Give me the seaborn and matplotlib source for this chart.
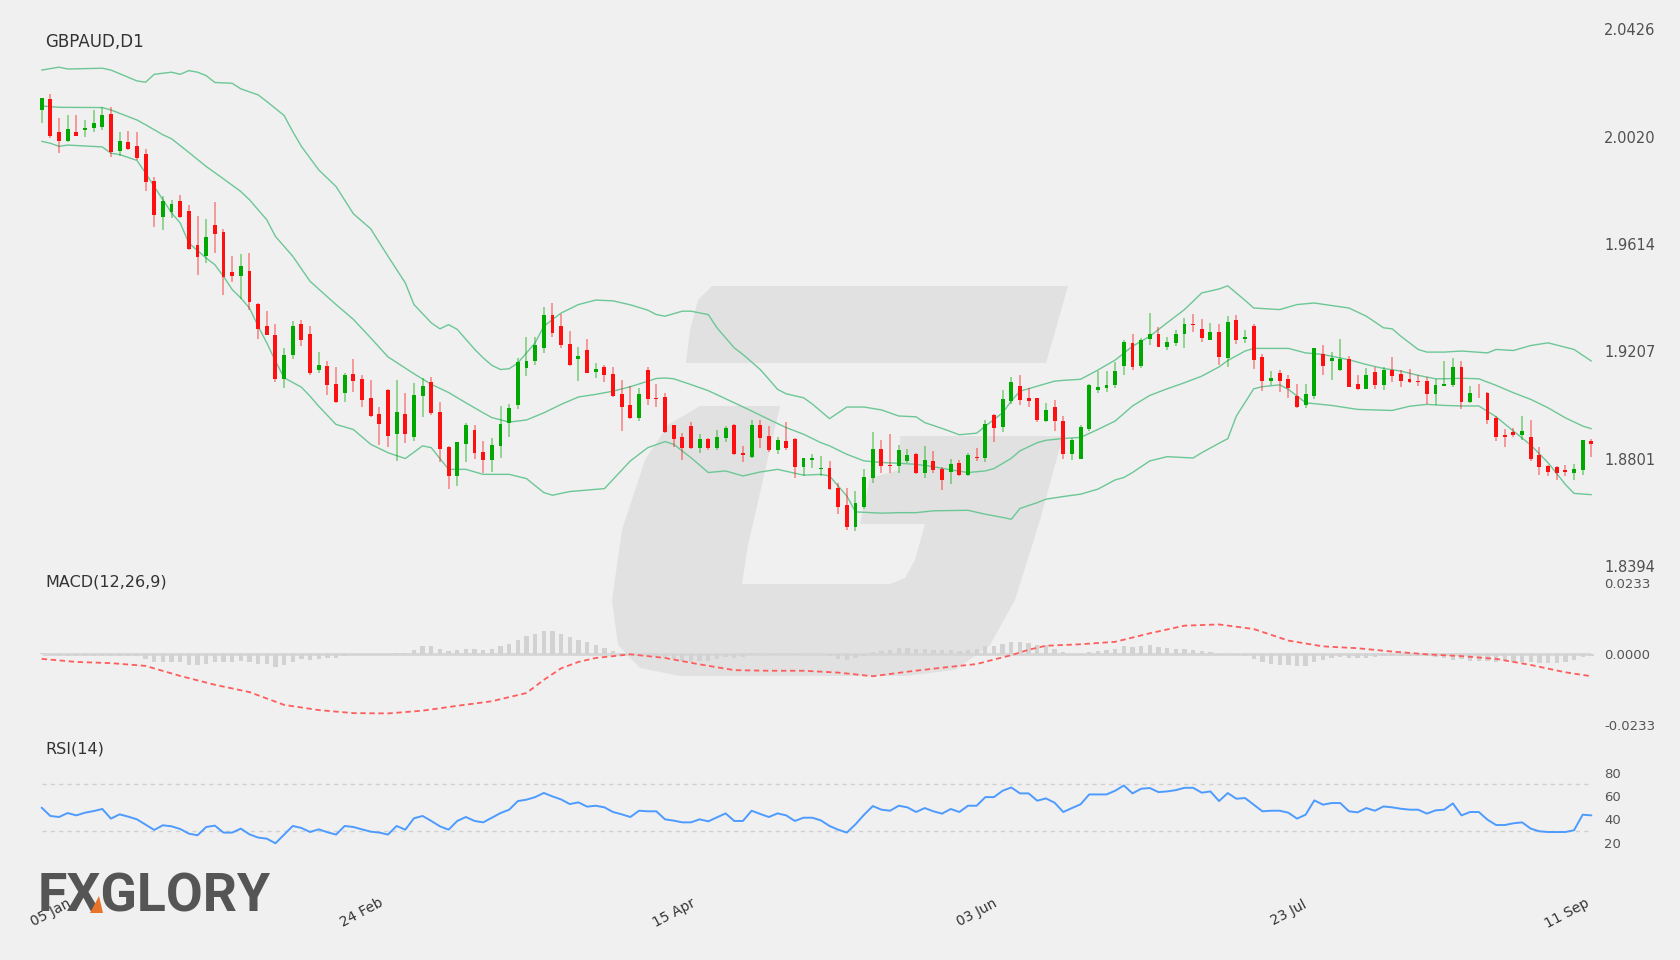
import numpy as np
import pandas as pd
import matplotlib
matplotlib.use("Agg")
import matplotlib.pyplot as plt
import matplotlib.transforms as mtransforms
from matplotlib.patches import Polygon
import seaborn as sns

# --- data (GBPAUD daily, 180 candles) ---
opens = [2.0121, 2.0162, 2.0037, 2.0005, 2.0037, 2.0046, 2.0051, 2.0055, 2.0105, 1.9964,
         1.9999, 1.9986, 1.9956, 1.9853, 1.9716, 1.9733, 1.9777, 1.9738, 1.9608, 1.9567,
         1.9684, 1.9658, 1.9509, 1.9492, 1.9513, 1.9388, 1.9301, 1.9269, 1.9102, 1.9193,
         1.9312, 1.9271, 1.9135, 1.9151, 1.9082, 1.9049, 1.9122, 1.9103, 1.9030, 1.8969,
         1.9061, 1.8893, 1.8969, 1.8884, 1.9038, 1.9092, 1.8978, 1.8846, 1.8735, 1.8857,
         1.8910, 1.8825, 1.8796, 1.8849, 1.8934, 1.9005, 1.9143, 1.9169, 1.9218, 1.9343,
         1.9303, 1.9233, 1.9177, 1.9213, 1.9130, 1.9146, 1.9122, 1.9046, 1.9005, 1.8953,
         1.9135, 1.9031, 1.9035, 1.8927, 1.8883, 1.8923, 1.8840, 1.8876, 1.8840, 1.8880,
         1.8929, 1.8822, 1.8808, 1.8928, 1.8886, 1.8835, 1.8867, 1.8876, 1.8769, 1.8794,
         1.8762, 1.8765, 1.8690, 1.8624, 1.8540, 1.8618, 1.8726, 1.8837, 1.8777, 1.8773,
         1.8792, 1.8818, 1.8745, 1.8792, 1.8763, 1.8750, 1.8784, 1.8739, 1.8807, 1.8804,
         1.8967, 1.8920, 1.9017, 1.9077, 1.9029, 1.9029, 1.8943, 1.8995, 1.8943, 1.8817,
         1.8801, 1.8912, 1.9060, 1.9067, 1.9078, 1.9151, 1.9240, 1.9151, 1.9252, 1.9274,
         1.9223, 1.9238, 1.9271, 1.9311, 1.9291, 1.9249, 1.9281, 1.9181, 1.9327, 1.9253,
         1.9303, 1.9185, 1.9095, 1.9124, 1.9103, 1.9036, 1.9002, 1.9037, 1.9198, 1.9169,
         1.9135, 1.9176, 1.9085, 1.9065, 1.9128, 1.9079, 1.9137, 1.9122, 1.9101, 1.9095,
         1.9095, 1.9044, 1.9075, 1.9080, 1.9146, 1.9015, 1.9051, 1.9051, 1.8953, 1.8891,
         1.8900, 1.8889, 1.8882, 1.8813, 1.8774, 1.8770, 1.8756, 1.8748, 1.8758, 1.8867]
closes = [2.0165, 2.0024, 2.0005, 2.0047, 2.0024, 2.0053, 2.0071, 2.0102, 1.9960, 2.0004,
          1.9973, 1.9940, 1.9848, 1.9722, 1.9775, 1.9766, 1.9716, 1.9595, 1.9564, 1.9641,
          1.9653, 1.9489, 1.9491, 1.9530, 1.9393, 1.9292, 1.9268, 1.9104, 1.9194, 1.9301,
          1.9249, 1.9123, 1.9157, 1.9079, 1.9014, 1.9116, 1.9095, 1.9024, 1.8962, 1.8933,
          1.8888, 1.8978, 1.8894, 1.9043, 1.9075, 1.8972, 1.8836, 1.8735, 1.8865, 1.8929,
          1.8823, 1.8796, 1.8852, 1.8930, 1.8991, 1.9165, 1.9171, 1.9230, 1.9343, 1.9277,
          1.9229, 1.9154, 1.9191, 1.9126, 1.9141, 1.9117, 1.9038, 1.8996, 1.8956, 1.9046,
          1.9025, 1.9025, 1.8901, 1.8874, 1.8842, 1.8840, 1.8876, 1.8840, 1.8883, 1.8917,
          1.8817, 1.8813, 1.8927, 1.8878, 1.8832, 1.8870, 1.8840, 1.8769, 1.8802, 1.8802,
          1.8765, 1.8685, 1.8618, 1.8540, 1.8632, 1.8731, 1.8837, 1.8773, 1.8773, 1.8835,
          1.8813, 1.8745, 1.8794, 1.8757, 1.8720, 1.8779, 1.8739, 1.8813, 1.8802, 1.8930,
          1.8917, 1.9025, 1.9092, 1.9021, 1.9019, 1.8946, 1.8986, 1.8942, 1.8820, 1.8870,
          1.8919, 1.9079, 1.9070, 1.9079, 1.9131, 1.9244, 1.9148, 1.9248, 1.9274, 1.9223,
          1.9244, 1.9274, 1.9309, 1.9306, 1.9259, 1.9282, 1.9185, 1.9319, 1.9249, 1.9261,
          1.9174, 1.9094, 1.9107, 1.9095, 1.9069, 1.8995, 1.9046, 1.9218, 1.9150, 1.9182,
          1.9179, 1.9073, 1.9063, 1.9119, 1.9078, 1.9135, 1.9113, 1.9095, 1.9090, 1.9090,
          1.9046, 1.9078, 1.9085, 1.9148, 1.9015, 1.9051, 1.9048, 1.8947, 1.8882, 1.8882,
          1.8890, 1.8904, 1.8798, 1.8769, 1.8750, 1.8745, 1.8749, 1.8762, 1.8870, 1.8857]
highs = [2.0165, 2.0182, 2.0090, 2.0102, 2.0102, 2.0083, 2.0121, 2.0134, 2.0131, 2.0036,
         2.0042, 2.0037, 1.9973, 1.9867, 1.9794, 1.9781, 1.9800, 1.9761, 1.9718, 1.9709,
         1.9771, 1.9670, 1.9569, 1.9576, 1.9579, 1.9390, 1.9358, 1.9312, 1.9218, 1.9320,
         1.9327, 1.9301, 1.9206, 1.9170, 1.9146, 1.9126, 1.9176, 1.9118, 1.9097, 1.8996,
         1.9065, 1.9098, 1.9049, 1.9088, 1.9107, 1.9111, 1.9016, 1.8849, 1.8865, 1.8934,
         1.8928, 1.8867, 1.8879, 1.9000, 1.9006, 1.9183, 1.9262, 1.9262, 1.9373, 1.9390,
         1.9348, 1.9285, 1.9224, 1.9252, 1.9164, 1.9157, 1.9148, 1.9098, 1.9074, 1.9067,
         1.9148, 1.9082, 1.9050, 1.8929, 1.8898, 1.8941, 1.8895, 1.8880, 1.8908, 1.8924,
         1.8933, 1.8847, 1.8946, 1.8946, 1.8924, 1.8883, 1.8941, 1.8879, 1.8802, 1.8817,
         1.8811, 1.8792, 1.8707, 1.8689, 1.8677, 1.8763, 1.8900, 1.8871, 1.8893, 1.8852,
         1.8836, 1.8823, 1.8850, 1.8828, 1.8770, 1.8798, 1.8794, 1.8823, 1.8840, 1.8947,
         1.8971, 1.9062, 1.9109, 1.9116, 1.9067, 1.9031, 1.9010, 1.9022, 1.8962, 1.8880,
         1.8928, 1.9084, 1.9131, 1.9131, 1.9165, 1.9248, 1.9271, 1.9257, 1.9353, 1.9300,
         1.9262, 1.9287, 1.9334, 1.9350, 1.9331, 1.9315, 1.9309, 1.9342, 1.9346, 1.9288,
         1.9311, 1.9195, 1.9132, 1.9137, 1.9116, 1.9085, 1.9082, 1.9218, 1.9232, 1.9204,
         1.9252, 1.9191, 1.9118, 1.9142, 1.9147, 1.9146, 1.9186, 1.9135, 1.9141, 1.9118,
         1.9111, 1.9103, 1.9171, 1.9182, 1.9169, 1.9077, 1.9084, 1.9054, 1.8963, 1.8913,
         1.8918, 1.8962, 1.8947, 1.8843, 1.8777, 1.8774, 1.8775, 1.8780, 1.8870, 1.8874]
lows = [2.0073, 2.0014, 1.9957, 1.9998, 2.0024, 2.0018, 2.0039, 2.0046, 1.9942, 1.9947,
        1.9970, 1.9932, 1.9813, 1.9676, 1.9668, 1.9712, 1.9712, 1.9592, 1.9497, 1.9542,
        1.9579, 1.9419, 1.9470, 1.9406, 1.9365, 1.9252, 1.9267, 1.9092, 1.9068, 1.9177,
        1.9227, 1.9118, 1.9123, 1.9041, 1.9012, 1.9016, 1.9053, 1.8996, 1.8958, 1.8851,
        1.8845, 1.8792, 1.8860, 1.8867, 1.8959, 1.8964, 1.8788, 1.8685, 1.8697, 1.8788,
        1.8798, 1.8745, 1.8750, 1.8804, 1.8884, 1.8987, 1.9113, 1.9154, 1.9199, 1.9262,
        1.9218, 1.9151, 1.9094, 1.9123, 1.9107, 1.9092, 1.9035, 1.8905, 1.8949, 1.8943,
        1.9004, 1.8996, 1.8899, 1.8846, 1.8796, 1.8836, 1.8823, 1.8833, 1.8833, 1.8864,
        1.8815, 1.8786, 1.8802, 1.8842, 1.8827, 1.8820, 1.8832, 1.8726, 1.8735, 1.8764,
        1.8735, 1.8682, 1.8590, 1.8531, 1.8527, 1.8609, 1.8709, 1.8745, 1.8745, 1.8748,
        1.8783, 1.8741, 1.8729, 1.8745, 1.8682, 1.8706, 1.8733, 1.8733, 1.8792, 1.8788,
        1.8865, 1.8901, 1.9009, 1.9004, 1.8996, 1.8941, 1.8941, 1.8905, 1.8801, 1.8796,
        1.8798, 1.8904, 1.9048, 1.9053, 1.9069, 1.9119, 1.9136, 1.9145, 1.9229, 1.9223,
        1.9211, 1.9227, 1.9218, 1.9281, 1.9243, 1.9249, 1.9157, 1.9147, 1.9234, 1.9238,
        1.9141, 1.9056, 1.9078, 1.9053, 1.9031, 1.8992, 1.8991, 1.9025, 1.9117, 1.9098,
        1.9132, 1.9070, 1.9060, 1.9063, 1.9063, 1.9061, 1.9090, 1.9072, 1.9088, 1.9075,
        1.9006, 1.9002, 1.9075, 1.9070, 1.8990, 1.9012, 1.9031, 1.8932, 1.8867, 1.8845,
        1.8882, 1.8870, 1.8790, 1.8738, 1.8735, 1.8720, 1.8733, 1.8720, 1.8739, 1.8808]

# Bollinger band vertices: candle index and value for each line
upper_idx = [0, 2, 3, 7, 8, 11, 12, 13, 15, 16, 17, 18, 19, 20, 22, 23, 25, 26, 28, 29,
             30, 32, 34, 36, 38, 40, 42, 43, 45, 46, 47, 48, 50, 51, 52, 53, 54, 55, 57, 58,
             60, 62, 64, 66, 68, 70, 71, 72, 74, 75, 77, 78, 80, 81, 83, 84, 85, 86, 88, 89,
             91, 93, 95, 97, 99, 101, 102, 104, 106, 108, 109, 111, 112, 113, 115, 117, 118, 120, 122, 124,
             126, 128, 130, 132, 134, 136, 137, 139, 140, 143, 145, 147, 148, 151, 153, 155, 156, 157, 159, 160,
             162, 164, 167, 168, 170, 172, 174, 177, 179]
upper_vals = [2.0272, 2.0283, 2.0276, 2.0279, 2.0272, 2.0231, 2.0226, 2.0256, 2.0264, 2.0256,
              2.0270, 2.0264, 2.0251, 2.0225, 2.0222, 2.0201, 2.0178, 2.0153, 2.0100, 2.0039,
              1.9983, 1.9894, 1.9831, 1.9728, 1.9671, 1.9567, 1.9466, 1.9384, 1.9315, 1.9292,
              1.9308, 1.9290, 1.9215, 1.9182, 1.9154, 1.9138, 1.9141, 1.9163, 1.9239, 1.9302,
              1.9352, 1.9384, 1.9401, 1.9398, 1.9383, 1.9363, 1.9346, 1.9340, 1.9359, 1.9359,
              1.9346, 1.9296, 1.9220, 1.9195, 1.9138, 1.9101, 1.9063, 1.9046, 1.9031, 1.9008,
              1.8952, 1.8996, 1.8996, 1.8985, 1.8962, 1.8959, 1.8937, 1.8915, 1.8891, 1.8897,
              1.8924, 1.8974, 1.9019, 1.9056, 1.9075, 1.9094, 1.9097, 1.9101, 1.9136, 1.9174,
              1.9226, 1.9264, 1.9315, 1.9365, 1.9428, 1.9443, 1.9455, 1.9400, 1.9371, 1.9365,
              1.9384, 1.9390, 1.9385, 1.9371, 1.9340, 1.9296, 1.9292, 1.9264, 1.9214, 1.9204,
              1.9204, 1.9208, 1.9201, 1.9214, 1.9210, 1.9229, 1.9239, 1.9214, 1.9170]
mid_idx = [0, 2, 7, 8, 11, 12, 14, 15, 17, 19, 21, 23, 24, 26, 27, 29, 31, 34, 36, 38,
           40, 43, 45, 47, 49, 51, 52, 54, 56, 58, 60, 62, 64, 66, 68, 71, 72, 73, 75, 77,
           80, 82, 84, 86, 88, 90, 91, 93, 95, 97, 99, 101, 103, 105, 107, 109, 110, 112, 113, 115,
           116, 118, 120, 122, 124, 126, 128, 130, 132, 134, 136, 137, 139, 140, 144, 146, 148, 151, 153, 155,
           157, 159, 161, 162, 164, 166, 168, 170, 172, 174, 176, 178, 179]
mid_vals = [2.0136, 2.0131, 2.0130, 2.0121, 2.0083, 2.0065, 2.0027, 2.0012, 1.9960, 1.9907,
            1.9860, 1.9812, 1.9781, 1.9705, 1.9642, 1.9567, 1.9472, 1.9384, 1.9328, 1.9258,
            1.9186, 1.9122, 1.9082, 1.9051, 1.9012, 1.8974, 1.8956, 1.8939, 1.8947, 1.8974,
            1.9006, 1.9034, 1.9044, 1.9056, 1.9073, 1.9104, 1.9106, 1.9103, 1.9081, 1.9058,
            1.9012, 1.8981, 1.8949, 1.8918, 1.8893, 1.8861, 1.8849, 1.8817, 1.8792, 1.8786,
            1.8783, 1.8779, 1.8770, 1.8758, 1.8748, 1.8754, 1.8763, 1.8802, 1.8830, 1.8861,
            1.8870, 1.8877, 1.8881, 1.8911, 1.8943, 1.9000, 1.9040, 1.9065, 1.9088, 1.9113,
            1.9148, 1.9172, 1.9208, 1.9218, 1.9218, 1.9201, 1.9195, 1.9175, 1.9157, 1.9142,
            1.9132, 1.9116, 1.9103, 1.9103, 1.9105, 1.9103, 1.9078, 1.9050, 1.9025, 1.8993,
            1.8955, 1.8924, 1.8914]
lower_idx = [0, 1, 2, 3, 7, 8, 9, 11, 12, 13, 14, 15, 16, 17, 19, 20, 21, 22, 23, 24,
             25, 26, 27, 28, 30, 31, 32, 34, 36, 38, 40, 42, 44, 45, 47, 49, 51, 54, 56, 58,
             59, 61, 65, 66, 68, 70, 72, 73, 75, 77, 79, 81, 83, 85, 88, 90, 91, 93, 94, 97,
             99, 101, 103, 107, 109, 111, 112, 113, 115, 116, 118, 120, 122, 124, 125, 126, 128, 130, 133, 134,
             136, 137, 138, 140, 141, 143, 144, 146, 149, 152, 156, 158, 160, 162, 164, 166, 168, 170, 172, 174,
             176, 177, 179]
lower_vals = [2.0002, 1.9995, 1.9983, 1.9988, 1.9981, 1.9957, 1.9952, 1.9930, 1.9882, 1.9831,
              1.9781, 1.9731, 1.9693, 1.9617, 1.9560, 1.9535, 1.9491, 1.9441, 1.9409, 1.9371,
              1.9302, 1.9239, 1.9170, 1.9107, 1.9071, 1.9037, 1.8999, 1.8930, 1.8911, 1.8855,
              1.8823, 1.8801, 1.8849, 1.8842, 1.8760, 1.8760, 1.8741, 1.8741, 1.8725, 1.8672,
              1.8662, 1.8676, 1.8687, 1.8722, 1.8792, 1.8842, 1.8865, 1.8855, 1.8804, 1.8748,
              1.8754, 1.8735, 1.8750, 1.8760, 1.8738, 1.8741, 1.8735, 1.8659, 1.8599, 1.8594,
              1.8596, 1.8596, 1.8603, 1.8605, 1.8590, 1.8578, 1.8571, 1.8612, 1.8634, 1.8647,
              1.8657, 1.8666, 1.8685, 1.8720, 1.8729, 1.8748, 1.8792, 1.8808, 1.8803, 1.8823,
              1.8859, 1.8876, 1.8962, 1.9065, 1.9073, 1.9080, 1.9063, 1.9012, 1.9002, 1.8987,
              1.8983, 1.8999, 1.9006, 1.9002, 1.9000, 1.9000, 1.8959, 1.8905, 1.8852, 1.8785,
              1.8703, 1.8669, 1.8664]

macd_hist = [0.0004, -0.0003, -0.0005, -0.0005, -0.0005, -0.0005, -0.0005, -0.0005, -0.0005, -0.0005,
             -0.0005, -0.0005, -0.0016, -0.0027, -0.0027, -0.0027, -0.0027, -0.0036, -0.0037, -0.0033,
             -0.0025, -0.0027, -0.0027, -0.0023, -0.0027, -0.0033, -0.0034, -0.0044, -0.0037, -0.0025,
             -0.0016, -0.0021, -0.0016, -0.0014, -0.0014, -0.0008, -0.0002, -0.0002, -0.0002, -0.0002,
             -0.0004, 0.0004, 0.0004, 0.0014, 0.0027, 0.0027, 0.0018, 0.0009, 0.0012, 0.0016,
             0.0016, 0.0014, 0.0016, 0.0025, 0.0032, 0.0047, 0.0058, 0.0067, 0.0074, 0.0074,
             0.0067, 0.0056, 0.0047, 0.0038, 0.0030, 0.0021, 0.0011, 0.0003, -0.0003, -0.0008,
             -0.0008, -0.0010, -0.0013, -0.0016, -0.0022, -0.0025, -0.0022, -0.0022, -0.0016, -0.0011,
             -0.0013, -0.0011, 0.0003, 0.0001, -0.0002, 0.0003, 0.0003, -0.0002, 0.0001, 0.0001,
             -0.0001, -0.0008, -0.0016, -0.0021, -0.0014, -0.0008, 0.0005, 0.0011, 0.0014, 0.0021,
             0.0021, 0.0018, 0.0018, 0.0014, 0.0013, 0.0013, 0.0010, 0.0012, 0.0016, 0.0025,
             0.0027, 0.0034, 0.0041, 0.0039, 0.0036, 0.0028, 0.0028, 0.0015, 0.0005, 0.0001,
             -0.0003, 0.0008, 0.0010, 0.0012, 0.0018, 0.0027, 0.0023, 0.0027, 0.0030, 0.0023,
             0.0020, 0.0018, 0.0016, 0.0014, 0.0009, 0.0008, -0.0003, -0.0001, -0.0003, -0.0008,
             -0.0016, -0.0027, -0.0032, -0.0035, -0.0036, -0.0038, -0.0038, -0.0026, -0.0021, -0.0013,
             -0.0011, -0.0012, -0.0013, -0.0013, -0.0011, -0.0008, -0.0005, -0.0008, -0.0008, -0.0005,
             -0.0008, -0.0010, -0.0013, -0.0019, -0.0016, -0.0022, -0.0022, -0.0022, -0.0026, -0.0024,
             -0.0025, -0.0027, -0.0027, -0.0030, -0.0030, -0.0030, -0.0025, -0.0021, -0.0010, -0.0005]

signal_idx = [0, 4, 8, 12, 16, 20, 24, 28, 32, 36, 40, 44, 48, 52, 56, 58, 60, 62, 64, 68,
              72, 76, 80, 84, 88, 92, 96, 100, 104, 108, 110, 112, 114, 116, 120, 124, 128, 132,
              136, 140, 144, 148, 152, 156, 160, 164, 168, 172, 176, 179]
signal_vals = [-0.0016, -0.0026, -0.0030, -0.0039, -0.0072, -0.0101, -0.0125, -0.0167, -0.0184,
               -0.0194, -0.0195, -0.0186, -0.0170, -0.0155, -0.0128, -0.0085, -0.0047, -0.0026,
               -0.0013, -0.0001, -0.0013, -0.0034, -0.0053, -0.0055, -0.0055, -0.0061, -0.0073,
               -0.0058, -0.0045, -0.0033, -0.0018, -0.0004, 0.0014, 0.0027, 0.0032, 0.0040,
               0.0068, 0.0093, 0.0097, 0.0082, 0.0044, 0.0025, 0.0019, 0.0008, -0.0001, -0.0007,
               -0.0016, -0.0036, -0.0060, -0.0073]

rsi = [50.0, 42.9, 42.0, 45.4, 43.4, 45.7, 47.1, 48.9, 40.6, 44.3,
       42.3, 40.0, 35.4, 30.9, 34.9, 34.0, 31.7, 27.7, 26.3, 33.4,
       34.6, 28.6, 28.6, 32.0, 27.1, 24.3, 23.4, 19.4, 26.9, 34.3,
       32.6, 29.1, 31.4, 28.9, 26.9, 34.3, 33.4, 31.4, 29.4, 28.6,
       26.9, 34.3, 31.1, 40.9, 42.9, 38.6, 34.0, 31.1, 38.6, 42.0,
       38.6, 37.4, 41.4, 45.4, 48.3, 55.7, 56.9, 59.1, 62.7, 59.7,
       57.1, 53.1, 54.6, 50.9, 51.7, 50.3, 46.3, 44.3, 42.0, 47.4,
       46.9, 46.9, 40.0, 38.9, 37.4, 37.4, 40.0, 38.3, 41.7, 45.1,
       38.6, 38.6, 47.4, 44.6, 42.0, 45.1, 43.4, 38.6, 41.4, 41.4,
       39.1, 34.3, 31.1, 28.6, 35.7, 44.0, 51.4, 48.3, 47.4, 51.7,
       50.3, 46.3, 49.7, 46.9, 44.9, 48.9, 46.3, 51.7, 51.7, 59.1,
       59.1, 64.6, 67.4, 62.3, 62.3, 56.0, 58.0, 54.3, 46.3, 49.7,
       52.9, 61.4, 61.4, 61.4, 64.6, 69.1, 62.3, 66.3, 66.9, 63.4,
       64.0, 65.1, 67.1, 67.1, 62.9, 64.0, 55.7, 62.6, 57.7, 58.3,
       52.6, 46.9, 47.4, 47.4, 45.7, 40.6, 44.0, 56.3, 52.6, 54.0,
       54.0, 46.9, 46.0, 49.7, 47.4, 51.1, 50.3, 49.1, 48.3, 48.3,
       44.9, 47.7, 48.3, 53.7, 43.4, 46.3, 46.3, 39.7, 35.1, 35.1,
       36.6, 37.4, 32.0, 29.7, 29.1, 29.1, 29.1, 30.6, 44.0, 43.4]

price_ticks = [1.8394, 1.8801, 1.9207, 1.9614, 2.0020, 2.0426]
macd_ticks = [-0.0233, 0.0, 0.0233]
rsi_ticks = [20, 40, 60, 80]
rsi_levels = [30, 70]
date_idx = [0, 36, 72, 107, 143, 179]
date_labels = ["05 Jan", "24 Feb", "15 Apr", "03 Jun", "23 Jul", "11 Sep"]

df = pd.DataFrame({"open": opens, "high": highs, "low": lows, "close": closes})
df["x"] = np.arange(len(df))

# --- style ---
sns.set_style("white")
plt.rcParams["font.family"] = ["DejaVu Sans"]

BG = "#f0f0f0"
GREEN = "#00a800"
RED = "#ff1010"
BAND = "#6cc796"
W, H = 1680, 960


def fx(px):
    return px / W


def fy(py):
    return 1 - py / H


fig = plt.figure(figsize=(16.8, 9.6), dpi=100, facecolor=BG)

# watermark logo behind everything (pixel coords)
wm_color = "#e1e1e1"
top_bar = [(712, 286), (1068, 286), (1046, 363), (686, 363), (690, 330), (698, 300)]
g_body = [(700, 406), (780, 406), (748, 545), (742, 584), (890, 584), (905, 578), (915, 560),
          (925, 524), (860, 524), (870, 478), (900, 470), (900, 436), (1063, 436), (1040, 520),
          (1015, 600), (990, 645), (955, 670), (905, 676), (680, 676), (640, 668), (618, 645),
          (612, 600), (622, 530), (645, 460), (668, 425)]
for pts in (top_bar, g_body):
    fig.patches.append(Polygon([(fx(a), fy(b)) for a, b in pts], closed=True,
                               transform=fig.transFigure, facecolor=wm_color,
                               edgecolor="none", zorder=-5))

left, right = 30, 1600
xlim = (-1.35, 180.0)
ax_p = fig.add_axes([fx(left), fy(566), fx(right - left), (566 - 29.4) / H])
ax_m = fig.add_axes([fx(left), fy(725), fx(right - left), (725 - 583) / H])
ax_r = fig.add_axes([fx(left), fy(842.6), fx(right - left), (842.6 - 772.8) / H])

for ax in (ax_p, ax_m, ax_r):
    ax.set_facecolor("none")
    for s in ax.spines.values():
        s.set_visible(False)
    ax.set_xlim(*xlim)
    ax.set_xticks([])
    ax.yaxis.tick_right()
    ax.tick_params(axis="y", length=0, pad=3)

# --- price panel: candles + bollinger bands ---
up = df["close"] >= df["open"]
cols = np.where(up, GREEN, RED)
body_low = np.minimum(df["open"], df["close"])
body_h = np.maximum((df["close"] - df["open"]).abs(), 0.00012)
ax_p.vlines(df["x"], df["low"], df["high"], colors=cols, linewidth=1.1, alpha=0.5, zorder=2)
ax_p.bar(df["x"], body_h, bottom=body_low, width=0.45, color=cols, linewidth=0, zorder=3)
for bx, by in ((upper_idx, upper_vals), (mid_idx, mid_vals), (lower_idx, lower_vals)):
    sns.lineplot(x=bx, y=by, ax=ax_p, color=BAND, linewidth=1.0, zorder=1)
ax_p.set_ylim(price_ticks[0], price_ticks[-1])
ax_p.set_yticks(price_ticks)
ax_p.set_yticklabels([f"{t:.4f}" for t in price_ticks])
ax_p.tick_params(axis="y", labelsize=10.5, labelcolor="#505050")

# --- MACD panel ---
ax_m.hlines(0, 0, len(df) - 1, colors="#d6d6d6", linewidth=2.0, zorder=1)
ax_m.bar(df["x"], macd_hist, width=0.5, color="#d2d2d2", linewidth=0, zorder=2)
sns.lineplot(x=signal_idx, y=signal_vals, ax=ax_m, color="#ff5c5c", linewidth=1.3,
             linestyle=(0, (3, 2)), zorder=3)
ax_m.set_ylim(macd_ticks[0], macd_ticks[-1])
ax_m.set_yticks(macd_ticks)
ax_m.set_yticklabels([f"{t:.4f}" for t in macd_ticks])
ax_m.tick_params(axis="y", labelsize=9.5, labelcolor="#555555")

# --- RSI panel ---
ax_r.hlines(rsi_levels, 0, len(df) - 1, colors="#d0d0d0", linewidth=1.0,
            linestyles=(0, (3, 3)), zorder=1)
sns.lineplot(x=df["x"], y=rsi, ax=ax_r, color="#4d9bff", linewidth=1.4, zorder=3)
for line in ax_r.lines:
    line.set_clip_on(False)
ax_r.set_ylim(rsi_ticks[0], rsi_ticks[-1])
ax_r.set_yticks(rsi_ticks)
ax_r.set_yticklabels([str(t) for t in rsi_ticks])
ax_r.tick_params(axis="y", labelsize=9.5, labelcolor="#555555")

for ax in (ax_p, ax_m, ax_r):
    ax.set_xlabel("")
    ax.set_ylabel("")

# --- panel titles ---
fig.text(fx(45), fy(42), "GBPAUD,D1", fontsize=12, color="#333333", va="center")
fig.text(fx(45), fy(582), "MACD(12,26,9)", fontsize=11.5, color="#333333", va="center")
fig.text(fx(45), fy(749), "RSI(14)", fontsize=11.5, color="#333333", va="center")

# --- date labels ---
trans = mtransforms.blended_transform_factory(ax_r.transData, fig.transFigure)
for i, (pos, lab) in enumerate(zip(date_idx, date_labels)):
    last = i == len(date_idx) - 1
    ax_r.text(pos if last else pos + 1, fy(913), lab, transform=trans, rotation=28,
              ha="right" if last else "center", va="center", fontsize=10, color="#333333")

# --- brand logo ---
fig.text(fx(38), fy(912), "FXGLORY", family=["Roboto", "DejaVu Sans"], fontweight="bold",
         fontsize=38.5, color="#555555", va="baseline", ha="left")
fig.patches.append(Polygon([(fx(90), fy(913)), (fx(103), fy(913)), (fx(99), fy(896))],
                           closed=True, transform=fig.transFigure, facecolor="#e8732a",
                           edgecolor="none", zorder=5))

fig.savefig("out.png", dpi=100, facecolor=BG)
